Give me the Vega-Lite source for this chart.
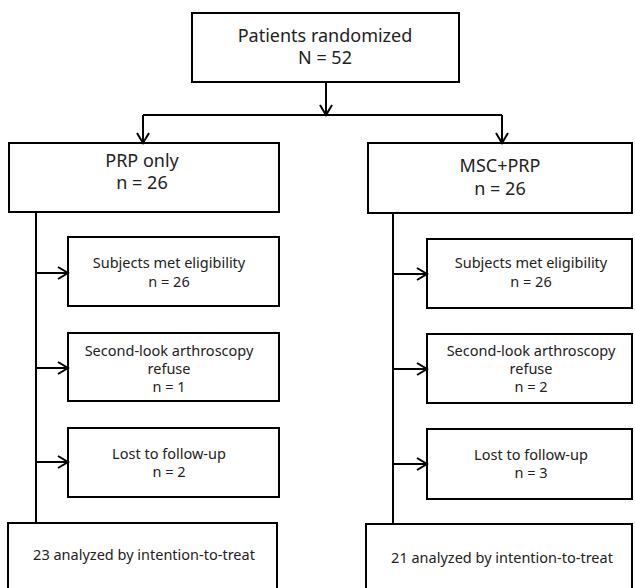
{
  "$schema": "https://vega.github.io/schema/vega-lite/v6.json",
  "width": 635,
  "height": 588,
  "autosize": {"type": "fit", "contains": "padding"},
  "padding": 0,
  "background": "white",
  "config": {"view": {"stroke": null}},
  "datasets": {
    "boxes": [
      {"id": "top", "x": 192, "x2": 459, "y": 13, "y2": 82},
      {"id": "L0", "x": 9, "x2": 279, "y": 143, "y2": 212},
      {"id": "R0", "x": 368, "x2": 632, "y": 143, "y2": 213},
      {"id": "L1", "x": 68, "x2": 279, "y": 237, "y2": 306},
      {"id": "L2", "x": 68, "x2": 279, "y": 333, "y2": 401},
      {"id": "L3", "x": 68, "x2": 279, "y": 428, "y2": 497},
      {"id": "R1", "x": 427, "x2": 632, "y": 239, "y2": 308},
      {"id": "R2", "x": 427, "x2": 632, "y": 334, "y2": 403},
      {"id": "R3", "x": 427, "x2": 632, "y": 429, "y2": 499},
      {"id": "L4", "x": 8, "x2": 277, "y": 523, "y2": 600},
      {"id": "R4", "x": 366, "x2": 632, "y": 524, "y2": 600}
    ],
    "lines": [
      {"x": 326, "x2": 326, "y": 82, "y2": 115},
      {"x": 143, "x2": 502, "y": 115, "y2": 115},
      {"x": 143, "x2": 143, "y": 115, "y2": 143},
      {"x": 502, "x2": 502, "y": 115, "y2": 143},
      {"x": 36, "x2": 36, "y": 212, "y2": 523},
      {"x": 393, "x2": 393, "y": 213, "y2": 524},
      {"x": 36, "x2": 68, "y": 273, "y2": 273},
      {"x": 36, "x2": 68, "y": 368, "y2": 368},
      {"x": 36, "x2": 68, "y": 462, "y2": 462},
      {"x": 393, "x2": 427, "y": 274, "y2": 274},
      {"x": 393, "x2": 427, "y": 369, "y2": 369},
      {"x": 393, "x2": 427, "y": 464, "y2": 464}
    ],
    "arrows": [
      {"x": 326, "y": 115, "dir": "down"},
      {"x": 143, "y": 143, "dir": "down"},
      {"x": 502, "y": 143, "dir": "down"},
      {"x": 68, "y": 273, "dir": "right"},
      {"x": 68, "y": 368, "dir": "right"},
      {"x": 68, "y": 462, "dir": "right"},
      {"x": 427, "y": 274, "dir": "right"},
      {"x": 427, "y": 369, "dir": "right"},
      {"x": 427, "y": 464, "dir": "right"}
    ],
    "labels": [
      {"kind": "big", "x": 325, "y": 37, "label": "Patients randomized"},
      {"kind": "big", "x": 325, "y": 59, "label": "N = 52"},
      {"kind": "big", "x": 142, "y": 162, "label": "PRP only"},
      {"kind": "big", "x": 142, "y": 184, "label": "n = 26"},
      {"kind": "big", "x": 500, "y": 167, "label": "MSC+PRP"},
      {"kind": "big", "x": 500, "y": 190, "label": "n = 26"},
      {"kind": "small", "x": 169, "y": 264, "label": "Subjects met eligibility"},
      {"kind": "small", "x": 169, "y": 283, "label": "n = 26"},
      {"kind": "small", "x": 169, "y": 352, "label": "Second-look arthroscopy"},
      {"kind": "small", "x": 169, "y": 370, "label": "refuse"},
      {"kind": "small", "x": 169, "y": 388, "label": "n = 1"},
      {"kind": "small", "x": 169, "y": 455, "label": "Lost to follow-up"},
      {"kind": "small", "x": 169, "y": 473, "label": "n = 2"},
      {"kind": "small", "x": 531, "y": 264, "label": "Subjects met eligibility"},
      {"kind": "small", "x": 531, "y": 283, "label": "n = 26"},
      {"kind": "small", "x": 531, "y": 352, "label": "Second-look arthroscopy"},
      {"kind": "small", "x": 531, "y": 370, "label": "refuse"},
      {"kind": "small", "x": 531, "y": 388, "label": "n = 2"},
      {"kind": "small", "x": 531, "y": 456, "label": "Lost to follow-up"},
      {"kind": "small", "x": 531, "y": 474, "label": "n = 3"},
      {"kind": "small", "x": 144, "y": 556, "label": "23 analyzed by intention-to-treat"},
      {"kind": "small", "x": 502, "y": 559, "label": "21 analyzed by intention-to-treat"}
    ]
  },
  "layer": [
    {
      "data": {"name": "boxes"},
      "mark": {"type": "rect", "fill": "white", "stroke": "black", "strokeWidth": 2, "clip": true},
      "encoding": {
        "x": {"field": "x", "type": "quantitative", "scale": {"domain": [0, 635], "nice": false, "zero": false}, "axis": null},
        "x2": {"field": "x2"},
        "y": {"field": "y", "type": "quantitative", "scale": {"domain": [0, 588], "reverse": true, "nice": false, "zero": false}, "axis": null},
        "y2": {"field": "y2"}
      }
    },
    {
      "data": {"name": "lines"},
      "mark": {"type": "rule", "stroke": "black", "strokeWidth": 2},
      "encoding": {
        "x": {"field": "x", "type": "quantitative", "axis": null},
        "x2": {"field": "x2"},
        "y": {"field": "y", "type": "quantitative", "axis": null},
        "y2": {"field": "y2"}
      }
    },
    {
      "data": {"name": "arrows"},
      "transform": [{"filter": "datum.dir === 'down'"}],
      "mark": {"type": "point", "filled": false, "stroke": "black", "strokeWidth": 2, "opacity": 1, "size": 100, "shape": "M-1.2,-2L0,0L1.2,-2"},
      "encoding": {
        "x": {"field": "x", "type": "quantitative", "axis": null},
        "y": {"field": "y", "type": "quantitative", "axis": null}
      }
    },
    {
      "data": {"name": "arrows"},
      "transform": [{"filter": "datum.dir === 'right'"}],
      "mark": {"type": "point", "filled": false, "stroke": "black", "strokeWidth": 2, "opacity": 1, "size": 100, "shape": "M-2,-1.2L0,0L-2,1.2"},
      "encoding": {
        "x": {"field": "x", "type": "quantitative", "axis": null},
        "y": {"field": "y", "type": "quantitative", "axis": null}
      }
    },
    {
      "data": {"name": "labels"},
      "transform": [{"filter": "datum.kind === 'big'"}],
      "mark": {"type": "text", "font": "Noto Sans", "fontSize": 18, "color": "#222", "align": "center", "baseline": "middle"},
      "encoding": {
        "x": {"field": "x", "type": "quantitative", "axis": null},
        "y": {"field": "y", "type": "quantitative", "axis": null},
        "text": {"field": "label"}
      }
    },
    {
      "data": {"name": "labels"},
      "transform": [{"filter": "datum.kind === 'small'"}],
      "mark": {"type": "text", "font": "Noto Sans", "fontSize": 14.5, "color": "#222", "align": "center", "baseline": "middle"},
      "encoding": {
        "x": {"field": "x", "type": "quantitative", "axis": null},
        "y": {"field": "y", "type": "quantitative", "axis": null},
        "text": {"field": "label"}
      }
    }
  ]
}
